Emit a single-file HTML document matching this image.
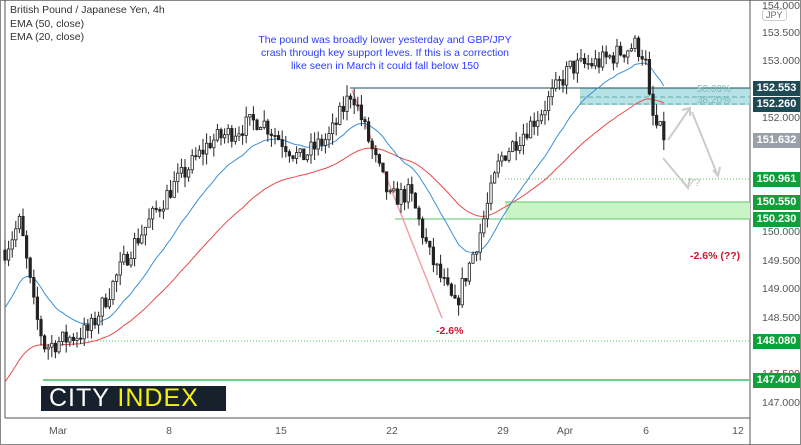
<!DOCTYPE html>
<html><head><style>
body{margin:0;background:#fff;font-family:"Liberation Sans",sans-serif;}
#w{position:relative;width:801px;height:445px;overflow:hidden;background:#fff;}
.lbl{position:absolute;right:1px;width:47px;height:15px;color:#fff;font-size:11px;font-weight:bold;line-height:15px;text-align:center;}
.tk{position:absolute;left:762px;font-size:10.5px;color:#555;}
.xt{position:absolute;top:425px;font-size:10.5px;color:#555;transform:translateX(-50%);}
</style></head><body>
<div id="w">
<svg id="s" width="801" height="445" style="position:absolute;left:0;top:0">
<rect x="0.5" y="0.5" width="800" height="444" fill="none" stroke="#888"/>
<line x1="750" y1="0" x2="750" y2="445" stroke="#555"/>
<line x1="5" y1="418" x2="750" y2="418" stroke="#555"/>
<line x1="5" y1="0" x2="5" y2="418" stroke="#555"/>
<rect x="580" y="88" width="170" height="17" fill="#a9dde0" opacity="0.85"/>
<line x1="580" y1="97" x2="750" y2="97" stroke="#6aa" stroke-dasharray="5,3"/>
<line x1="580" y1="104" x2="750" y2="104" stroke="#6aa" stroke-dasharray="5,3"/>
<line x1="350" y1="88" x2="750" y2="88" stroke="#1d4a55" stroke-width="1"/>
<rect x="505" y="202" width="245" height="17" fill="#c8f5c3"/>
<line x1="505" y1="202" x2="750" y2="202" stroke="#5bc56b"/>
<line x1="395" y1="219" x2="750" y2="219" stroke="#5bc56b"/>
<line x1="505" y1="179" x2="750" y2="179" stroke="#5bc56b" stroke-dasharray="1,2"/>
<line x1="85" y1="341" x2="750" y2="341" stroke="#5bc56b" stroke-dasharray="1,2"/>
<line x1="43" y1="380" x2="750" y2="380" stroke="#6cd08a" stroke-width="2"/>
<line x1="352" y1="90" x2="442" y2="318" stroke="#f1a1a8" stroke-width="1.5"/>
<g stroke="#ccc" stroke-width="2" fill="none">
<polyline points="663,158 688,188"/><polyline points="682,180 688,188 690,178"/>
<polyline points="668,140 690,108"/><polyline points="682,110 690,108 690,116"/>
<polyline points="692,112 718,176"/><polyline points="713,170 718,176 720,167"/>
</g>
<text x="688" y="186" font-size="11" fill="#bbb">??</text>
<text x="697" y="92" font-size="10" fill="#7bb">50.00%</text>
<text x="697" y="103" font-size="10" fill="#7bb">38.20%</text>
<g id="c"></g>
</svg>
<div style="position:absolute;left:10px;top:4px;font-size:10.5px;color:#333;line-height:13.5px">British Pound / Japanese Yen, 4h<br>EMA (50, close)<br>EMA (20, close)</div>
<div style="position:absolute;left:255px;top:34px;width:260px;text-align:center;font-size:10.5px;color:#2a3cff;line-height:13px">The pound was broadly lower yesterday and GBP/JPY crash through key support leves. If this is a correction like seen in March it could fall below 150</div>
<div style="position:absolute;left:436px;top:325px;font-size:10.5px;color:#d0142e;font-weight:bold">-2.6%</div>
<div style="position:absolute;left:690px;top:250px;font-size:10.5px;color:#d0142e;font-weight:bold">-2.6% (??)</div>
<div style="position:absolute;left:41px;top:386px;width:185px;height:25px;background:#16212b;font-size:25px;line-height:25px;letter-spacing:1px;color:#fff;font-family:'Liberation Sans',sans-serif">&nbsp;CITY <span style="color:#f7ef12">INDEX</span></div>
<div style="position:absolute;left:762px;top:9px;font-size:9px;color:#666;border:1px solid #ccc;border-radius:3px;padding:0 3px">JPY</div>
<div class="tk" style="top:0px">154.000</div>
<div class="tk" style="top:27px">153.500</div>
<div class="tk" style="top:55px">153.000</div>
<div class="tk" style="top:112px">152.000</div>
<div class="tk" style="top:226px">150.000</div>
<div class="tk" style="top:255px">149.500</div>
<div class="tk" style="top:283px">149.000</div>
<div class="tk" style="top:312px">148.500</div>
<div class="tk" style="top:368px">147.500</div>
<div class="tk" style="top:397px">147.000</div>
<div class="lbl" style="top:81px;background:#1d4a55">152.553</div>
<div class="lbl" style="top:97px;background:#1d4a55">152.260</div>
<div class="lbl" style="top:133px;background:#9aa0aa">151.632</div>
<div class="lbl" style="top:172px;background:#0fa03a">150.961</div>
<div class="lbl" style="top:195px;background:#0fa03a">150.550</div>
<div class="lbl" style="top:212px;background:#0fa03a">150.230</div>
<div class="lbl" style="top:334px;background:#0fa03a">148.080</div>
<div class="lbl" style="top:373px;background:#0fa03a">147.400</div>
<div class="xt" style="left:58px">Mar</div>
<div class="xt" style="left:169px">8</div>
<div class="xt" style="left:281px">15</div>
<div class="xt" style="left:392px">22</div>
<div class="xt" style="left:503px">29</div>
<div class="xt" style="left:565px">Apr</div>
<div class="xt" style="left:646px">6</div>
<div class="xt" style="left:738px">12</div>
</div>
<script>
var wp=[[5,149.7],[20,150.2],[35,148.6],[45,148.0],[90,148.3],[130,149.7],[170,150.75],[210,151.6],[260,152.0],[300,151.3],[330,151.7],[352,152.5],[375,151.3],[390,150.6],[410,150.7],[430,149.6],[455,148.7],[480,150.0],[500,151.3],[540,152.1],[570,152.9],[600,153.0],[635,153.3],[645,153.1],[650,152.2],[655,151.9],[667,151.63]];
function Y(p){return 119+(152-p)*57;}
function P(x){for(var i=1;i<wp.length;i++){if(x<=wp[i][0]){var a=wp[i-1],b=wp[i];return a[1]+(b[1]-a[1])*(x-a[0])/(b[0]-a[0]);}}return wp[wp.length-1][1];}
var seed=7;function r(){seed=(seed*16807)%2147483647;return seed/2147483647;}
var g=document.getElementById('c'),h='',closes=[],xs=[],prev=P(5);
for(var x=5;x<=667;x+=3.6){var c=P(x)+(r()-0.5)*0.35;var o=prev;var hi=Math.max(o,c)+r()*0.2,lo=Math.min(o,c)-r()*0.2;
h+='<line x1="'+x+'" y1="'+Y(hi)+'" x2="'+x+'" y2="'+Y(lo)+'" stroke="#222"/>';
var t=Y(Math.max(o,c)),b=Y(Math.min(o,c));h+='<rect x="'+(x-1.2)+'" y="'+t+'" width="2.4" height="'+Math.max(1,b-t)+'" fill="'+(c>o?'#fff':'#222')+'" stroke="#222" stroke-width="0.8"/>';
closes.push(c);xs.push(x);prev=c;}
function ema(n,init){var k=2/(n+1),e=init,pts=[];for(var i=0;i<closes.length;i++){e=closes[i]*k+e*(1-k);pts.push(xs[i]+','+Y(e));}return pts.join(' ');}
var e50=ema(50,147.3),e20=ema(20,148.6);
g.innerHTML='<polyline points="'+e50+'" fill="none" stroke="#e84a4a" stroke-width="1"/><polyline points="'+e20+'" fill="none" stroke="#3a8fd8" stroke-width="1"/>'+h;
</script>
</body></html>
